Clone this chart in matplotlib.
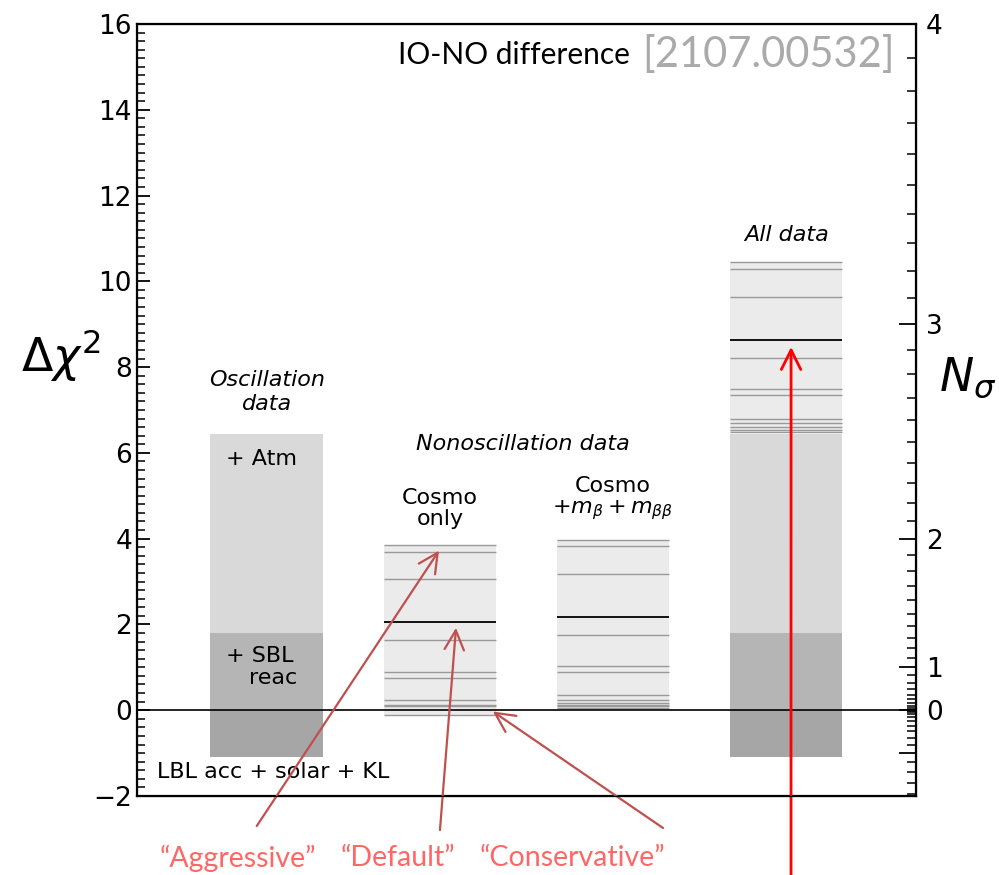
import numpy as np
import matplotlib
matplotlib.use('Agg')
import matplotlib.pyplot as plt

# bar positions (0 = oscillation, 1 = cosmo only, 2 = cosmo + m_beta + m_betabeta, 3 = all data)
osc_levels = [-1.1, 0.0, 1.8, 6.45]   # LBL acc+solar+KL / +SBL reac / +Atm
osc_colors = ['#a6a6a6', '#b5b5b5', '#d9d9d9']

cosmo_only = [3.86, 3.70, 3.06, 2.06, 1.64, 0.90, 0.76, 0.23, 0.13, 0.09, -0.12]
cosmo_only_default = 2.06
cosmo_mbb = [3.97, 3.83, 3.18, 2.17, 1.76, 1.03, 0.88, 0.345, 0.245, 0.17, 0.13, 0.09, 0.05]
cosmo_mbb_default = 2.17
all_data = [10.44, 10.28, 9.63, 8.64, 8.22, 7.49, 7.35, 6.79, 6.69, 6.61, 6.54, 6.49]
all_data_default = 8.64

nsigma_major = [-1, 0, 1, 2, 3, 4]
nsigma_labels = ['', '0', '1', '2', '3', '4']

bar_w = 0.65
line_grey = '#999999'
bg_grey = '#ebebeb'

fig = plt.figure(figsize=(9.99, 8.75), dpi=100)
ax = fig.add_axes([0.137, 0.0903, 0.78, 0.8823])
ax.set_xlim(-0.75, 3.75)
ax.set_ylim(-2, 16)

# oscillation bar (and the same stack under "all data")
for xc in [0, 3]:
    for lo, hi, c in zip(osc_levels[:-1], osc_levels[1:], osc_colors):
        ax.bar(xc, hi - lo, bottom=lo, width=bar_w, color=c, zorder=1)

def spread(xc, vals, default):
    lo = min(vals)
    hi = max(vals)
    ax.bar(xc, hi - lo, bottom=lo, width=bar_w, color=bg_grey, zorder=1)
    for v in vals:
        if v == default:
            ax.hlines(v, xc - bar_w / 2, xc + bar_w / 2, color='k', lw=1.3, zorder=2)
        else:
            ax.hlines(v, xc - bar_w / 2, xc + bar_w / 2, color=line_grey, lw=1.0, zorder=2)

spread(1, cosmo_only, cosmo_only_default)
spread(2, cosmo_mbb, cosmo_mbb_default)
spread(3, all_data, all_data_default)

ax.axhline(0, color='k', lw=1.2, zorder=3)

# left axis
ax.set_xticks([])
ax.set_yticks(np.arange(-2, 17, 2))
ax.set_yticks(np.arange(-2, 16.01, 0.2), minor=True)
ax.tick_params(axis='y', which='major', direction='in', length=9, width=1.3, labelsize=19)
ax.tick_params(axis='y', which='minor', direction='in', length=6, width=1.1)
for s in ax.spines.values():
    s.set_linewidth(1.6)
ax.set_ylabel(r'$\Delta\chi^2$', fontsize=33, rotation=0)
ax.yaxis.set_label_coords(-0.097, 0.535)

# right axis in N_sigma = sign * sqrt(|dchi2|)
ax2 = ax.twinx()
ax2.set_ylim(-2, 16)
ax2.set_yticks([np.sign(n) * n * n for n in nsigma_major])
ax2.set_yticklabels(nsigma_labels)
minor_n = [n for n in np.round(np.arange(-1.4, 4.0, 0.1), 1) if abs(n - round(n)) > 1e-6]
ax2.set_yticks([np.sign(n) * n * n for n in minor_n], minor=True)
ax2.tick_params(axis='y', which='major', direction='in', length=12, width=1.3, labelsize=19, pad=7)
ax2.tick_params(axis='y', which='minor', direction='in', length=6.5, width=1.1)
ax2.set_ylabel(r'$N_\sigma$', fontsize=33, rotation=0)
ax2.yaxis.set_label_coords(1.066, 0.571)

# labels inside the plot
ax.text(0, 7.42, 'Oscillation\ndata', ha='center', va='center', fontsize=16, style='italic')
ax.text(-0.236, 5.86, '+ Atm', ha='left', va='center', fontsize=16)
ax.text(-0.236, 1.26, '+ SBL', ha='left', va='center', fontsize=16)
ax.text(-0.10, 0.75, 'reac', ha='left', va='center', fontsize=16)
ax.text(0.036, -1.43, 'LBL acc + solar + KL', ha='center', va='center', fontsize=16)
ax.text(1.48, 6.21, 'Nonoscillation data', ha='center', va='center', fontsize=16, style='italic')
ax.text(1.0, 4.70, 'Cosmo\nonly', ha='center', va='center', fontsize=16, linespacing=1.05)
ax.text(2.0, 4.92, 'Cosmo\n$+m_\\beta + m_{\\beta\\beta}$', ha='center', va='center', fontsize=16, linespacing=1.05)
ax.text(3.0, 11.08, 'All data', ha='center', va='center', fontsize=16, style='italic')

ax.text(0.335, 0.96, 'IO-NO difference', transform=ax.transAxes, ha='left', va='center',
        fontsize=21.5, family='Lato')
ax.text(0.649, 0.96, '[2107.00532]', transform=ax.transAxes, ha='left', va='center',
        fontsize=30, family='Lato', color='#aaaaaa')

# arrows to the three cosmology choices
arr = dict(arrowstyle='->,head_length=0.7,head_width=0.35', color='#c0504d', lw=1.6,
           mutation_scale=20, shrinkA=0, shrinkB=0)
ax.annotate('', xy=(0.995, 3.72), xycoords='data', xytext=(0.257, 0.056),
            textcoords='figure fraction', arrowprops=arr, zorder=5, annotation_clip=False)
ax.annotate('', xy=(1.093, 1.92), xycoords='data', xytext=(0.4404, 0.0514),
            textcoords='figure fraction', arrowprops=arr, zorder=5, annotation_clip=False)
ax.annotate('', xy=(1.306, -0.03), xycoords='data', xytext=(0.6637, 0.0537),
            textcoords='figure fraction', arrowprops=arr, zorder=5, annotation_clip=False)
arr2 = dict(arr, color='#ff0000', lw=2)
ax.annotate('', xy=(3.028, 8.47), xycoords='data', xytext=(0.7918, 0.0),
            textcoords='figure fraction', arrowprops=arr2, zorder=5, annotation_clip=False)

red_txt = '#ff6666'
fig.text(0.238, 0.0195, '\u201cAggressive\u201d', ha='center', va='center', fontsize=20.5, family='Lato', color=red_txt)
fig.text(0.398, 0.0195, '\u201cDefault\u201d', ha='center', va='center', fontsize=20.5, family='Lato', color=red_txt)
fig.text(0.5725, 0.0195, '\u201cConservative\u201d', ha='center', va='center', fontsize=20.5, family='Lato', color=red_txt)

fig.savefig('out.png', dpi=100)
